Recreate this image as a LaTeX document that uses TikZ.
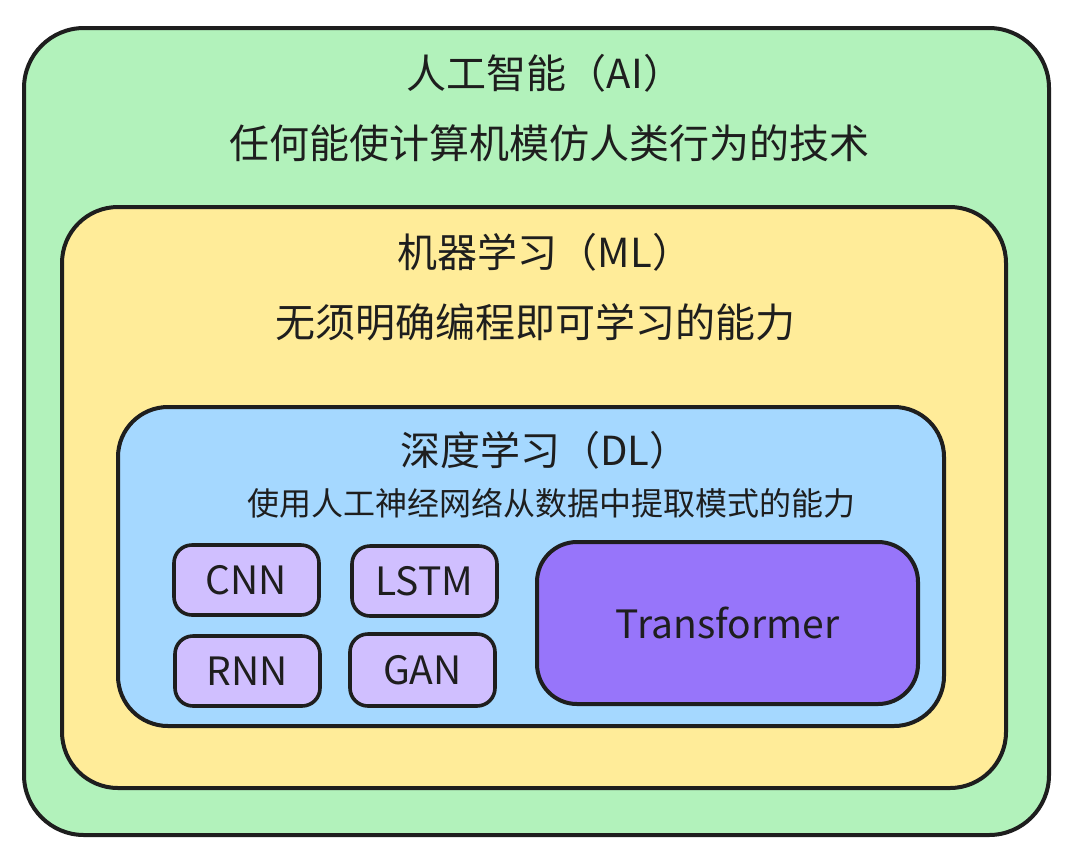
\documentclass[tikz,border=0pt]{standalone}
\usepackage{fontspec}
\setmainfont{Noto Sans CJK SC}
\definecolor{ink}{HTML}{1E1E1E}
\definecolor{aifill}{HTML}{B2F2BB}
\definecolor{mlfill}{HTML}{FFEC99}
\definecolor{dlfill}{HTML}{A5D8FF}
\definecolor{smallfill}{HTML}{D0BFFF}
\definecolor{trfill}{HTML}{9775FA}
\begin{document}
\begin{tikzpicture}[x=1pt,y=-1pt,
  box/.style={draw=ink, line width=4pt, inner sep=0pt, outer sep=0pt},
  algbox/.style={box, line width=3.6pt, fill=smallfill, rounded corners=18pt, minimum width=145pt, minimum height=70pt, font=\fontsize{39}{46}\selectfont, text=ink},
  bigtext/.style={font=\fontsize{40}{47}\selectfont, text=ink, inner sep=0pt},
  midtext/.style={font=\fontsize{32}{38}\selectfont, text=ink, inner sep=0pt}]
\useasboundingbox (0,0) rectangle (1075,852);
\node[box, fill=aifill, rounded corners=60pt, minimum width=1025pt, minimum height=807pt] (ai) at (536.5,431.5) {};
\node[box, fill=mlfill, rounded corners=56pt, minimum width=944pt, minimum height=581pt] (ml) at (534,497.5) {};
\node[box, fill=dlfill, rounded corners=50pt, minimum width=826pt, minimum height=319pt] (dl) at (531,566.5) {};
\node[algbox] (cnn) at (246.5,580) {CNN};
\node[algbox] (lstm) at (424.5,581) {LSTM};
\node[algbox] (rnn) at (247.5,671) {RNN};
\node[algbox, minimum height=72pt] (gan) at (422.5,670) {GAN};
\node[box, line width=4pt, fill=trfill, rounded corners=40pt, minimum width=381pt, minimum height=162pt, font=\fontsize{39}{46}\selectfont, text=ink] (tr) at (727.5,623) {Transformer};
\node[bigtext] (aititle) at (545,73) {人工智能（AI）};
\node[bigtext] (aidesc) at (549,143) {任何能使计算机模仿人类行为的技术};
\node[bigtext] (mltitle) at (545,252) {机器学习（ML）};
\node[bigtext] (mldesc) at (535,322) {无须明确编程即可学习的能力};
\node[bigtext] (dltitle) at (545,450) {深度学习（DL）};
\node[midtext] (dldesc) at (551,503) {使用人工神经网络从数据中提取模式的能力};
\end{tikzpicture}
\end{document}
